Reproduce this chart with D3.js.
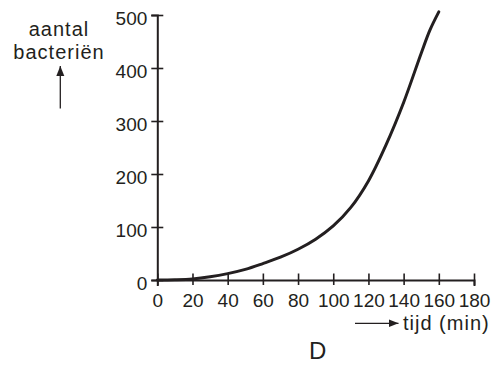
<!DOCTYPE html>
<html>
<head>
<meta charset="utf-8">
<script src="https://cdn.jsdelivr.net/npm/d3@7"></script>
<style>
  html, body { margin: 0; padding: 0; background: #fff; }
  svg { display: block; }
</style>
</head>
<body>
<svg id="chart" width="496" height="365"></svg>
<script>
const timeMin = [0, 10, 20, 30, 40, 50, 60, 70, 80, 90, 100, 110, 120, 130, 140, 150, 155, 160];
const bacteria = [0, 0.5, 2, 6, 12, 20, 31, 43, 58, 77, 102, 137, 187, 255, 335, 428, 472, 506];
const xTicks = [0, 20, 40, 60, 80, 100, 120, 140, 160, 180];
const yTicks = [0, 100, 200, 300, 400, 500];
const yLabelLines = ["aantal", "bacteriën"];
const xLabel = "tijd (min)";
const chartTitle = "D";

const ink = "#231f20";
const svg = d3.select("#chart");
const x = d3.scaleLinear().domain([0, 180]).range([157.3, 474]);
const y = d3.scaleLinear().domain([0, 500]).range([280, 15]);
const tickFont = "'Liberation Sans Narrow', 'Arial Narrow', Arial, sans-serif";
const textFont = "'Liberation Sans', Arial, Helvetica, sans-serif";

// x axis
const gx = svg.append("g").attr("transform", `translate(0,${y(0)})`)
  .call(d3.axisBottom(x).tickValues(xTicks).tickSizeOuter(0).tickSize(6));
gx.select(".domain").attr("stroke", ink).attr("stroke-width", 2);
gx.selectAll(".tick line").attr("stroke", ink).attr("stroke-width", 1.6).attr("y1", -6.5).attr("y2", 5);
gx.selectAll(".tick text").attr("y", 26.7).attr("dy", 0)
  .attr("font-family", tickFont).attr("font-size", 19).attr("fill", ink);

// y axis
const gy = svg.append("g").attr("transform", `translate(${x(0)},0)`)
  .call(d3.axisLeft(y).tickValues(yTicks).tickSizeOuter(0).tickSize(6));
gy.select(".domain").attr("stroke", ink).attr("stroke-width", 2);
gy.selectAll(".tick line").attr("stroke", ink).attr("stroke-width", 1.6).attr("x1", -6).attr("x2", 6);
gy.selectAll(".tick text").attr("x", -10).attr("y", 9.5).attr("dy", 0)
  .attr("font-family", tickFont).attr("font-size", 19).attr("fill", ink);

// curve
const pts = timeMin.map((t, i) => [t, bacteria[i]]);
svg.append("path")
  .datum(pts)
  .attr("fill", "none")
  .attr("stroke", ink)
  .attr("stroke-width", 3)
  .attr("stroke-linecap", "round")
  .attr("d", d3.line().x(d => x(d[0])).y(d => y(d[1])).curve(d3.curveCatmullRom.alpha(0.5)));

// y label
svg.selectAll(".ylab").data(yLabelLines).enter().append("text")
  .attr("x", 59).attr("y", (d, i) => 36 + i * 23)
  .attr("text-anchor", "middle")
  .attr("font-family", textFont).attr("font-size", 20).attr("letter-spacing", 1)
  .attr("fill", ink).text(d => d);

// arrows
const defs = svg.append("defs");
defs.append("marker").attr("id", "arr").attr("viewBox", "0 0 10 10")
  .attr("refX", 10).attr("refY", 5).attr("markerWidth", 10).attr("markerHeight", 10)
  .attr("markerUnits", "userSpaceOnUse").attr("orient", "auto")
  .append("path").attr("d", "M0,1 L10,5 L0,9 Z").attr("fill", ink);

svg.append("line").attr("x1", 60.3).attr("y1", 108.5).attr("x2", 60.3).attr("y2", 66)
  .attr("stroke", ink).attr("stroke-width", 1.3).attr("marker-end", "url(#arr)");
svg.append("line").attr("x1", 355).attr("y1", 323.3).attr("x2", 398.5).attr("y2", 323.3)
  .attr("stroke", ink).attr("stroke-width", 1.3).attr("marker-end", "url(#arr)");

svg.append("text").attr("x", 403).attr("y", 329.5)
  .attr("font-family", textFont).attr("font-size", 20).attr("letter-spacing", 1)
  .attr("fill", ink).text(xLabel);

svg.append("text").attr("x", 317.7).attr("y", 359.3).attr("text-anchor", "middle")
  .attr("font-family", textFont).attr("font-size", 24)
  .attr("fill", ink).text(chartTitle);
</script>
</body>
</html>
